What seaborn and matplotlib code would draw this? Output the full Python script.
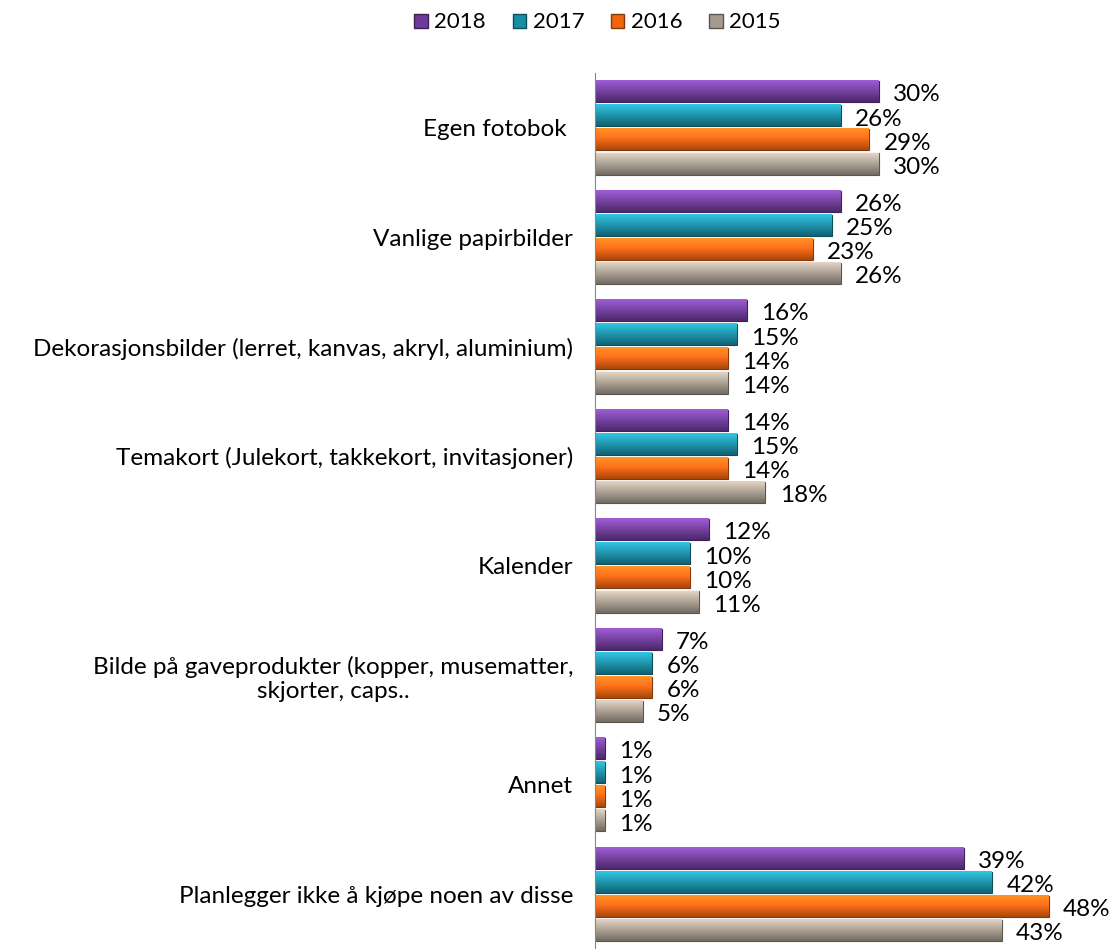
import matplotlib
matplotlib.use("Agg")
import matplotlib.pyplot as plt
import matplotlib.colors as mcolors
import seaborn as sns
import pandas as pd
import numpy as np

categories = [
    "Egen fotobok ",
    "Vanlige papirbilder",
    "Dekorasjonsbilder (lerret, kanvas, akryl, aluminium)",
    "Temakort (Julekort, takkekort, invitasjoner)",
    "Kalender",
    "Bilde på gaveprodukter (kopper, musematter,\nskjorter, caps..",
    "Annet",
    "Planlegger ikke å kjøpe noen av disse",
]
years = ["2018", "2017", "2016", "2015"]
v2018 = [30, 26, 16, 14, 12, 7, 1, 39]
v2017 = [26, 25, 15, 15, 10, 6, 1, 42]
v2016 = [29, 23, 14, 14, 10, 6, 1, 48]
v2015 = [30, 26, 14, 18, 11, 5, 1, 43]
colors = ["#6E3A9A", "#178EA6", "#F2650F", "#A59A8D"]

df = pd.DataFrame({"kategori": categories * 4,
                   "år": np.repeat(years, len(categories)),
                   "andel": v2018 + v2017 + v2016 + v2015})

sns.set_style("white")
plt.rcParams["font.family"] = ["Lato", "DejaVu Sans"]
plt.rcParams["text.color"] = "black"
plt.rcParams["ytick.color"] = "black"

fig, ax = plt.subplots(figsize=(11.13, 9.49), dpi=100)
fig.subplots_adjust(left=0.535, right=0.955, top=0.923, bottom=0.0)

sns.barplot(data=df, y="kategori", x="andel", hue="år", hue_order=years,
            palette=colors, order=categories, width=0.88, orient="h",
            ax=ax, legend=False, saturation=1)

# shaded look + value labels
for cont, col in zip(ax.containers, colors):
    base = np.array(mcolors.to_rgb(col))
    grad = np.linspace(0, 1, 32)
    shade = np.array([np.clip(base * (1.25 - 0.55 * g) + 0.08 * (1 - g), 0, 1) for g in grad])
    for bar in cont:
        h0 = bar.get_height()
        h = h0 * 0.88
        y0 = bar.get_y() + (h0 - h) / 2
        bar.set_y(y0)
        bar.set_height(h)
        x0, w = bar.get_x(), bar.get_width()
        bar.set_edgecolor(np.clip(base * 0.55, 0, 1))
        bar.set_linewidth(0.8)
        ax.imshow(shade[:, None, :], extent=(x0, x0 + w, y0 + h, y0),
                  aspect="auto", zorder=bar.get_zorder() + 0.1,
                  interpolation="bilinear")
        ax.text(x0 + w + 1.5, y0 + h / 2 + 0.03, f"{w:.0f}%", va="center",
                ha="left", fontsize=17.5, color="black")

ax.set_xlim(0, 49.5)
ax.set_ylim(len(categories) - 0.5, -0.5)
ax.set_xlabel("")
ax.set_ylabel("")
ax.set_xticks([])
ax.tick_params(axis="y", length=0, labelsize=17.5, pad=16)
for lab in ax.get_yticklabels():
    lab.set_multialignment("center")
ax.set_yticks(np.arange(-0.5, len(categories)), minor=True)
ax.tick_params(axis="y", which="minor", length=5, color="#868686", direction="out")
for s in ["top", "right", "bottom"]:
    ax.spines[s].set_visible(False)
ax.spines["left"].set_color("#868686")

handles = [plt.Rectangle((0, 0), 1, 1, facecolor=c, edgecolor=np.clip(np.array(mcolors.to_rgb(c)) * 0.55, 0, 1))
           for c in colors]
fig.legend(handles, years, loc="upper center", bbox_to_anchor=(0.537, 1.008), ncol=4,
           frameon=False, fontsize=16, handlelength=0.6, handleheight=0.6,
           handletextpad=0.3, columnspacing=1.2)

fig.savefig("out.png", dpi=100)
